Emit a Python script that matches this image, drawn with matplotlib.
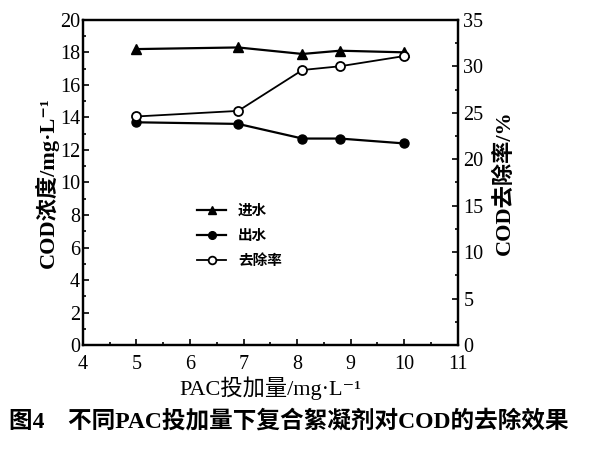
import matplotlib.pyplot as plt
from matplotlib.ticker import MultipleLocator

plt.rcParams['font.family'] = ['Liberation Serif', 'Noto Sans CJK SC', 'DejaVu Sans']

# PAC dose (mg/L)
dose = [5, 6.9, 8.1, 8.8, 10]
# COD concentrations (mg/L)
cod_in = [18.2, 18.3, 17.9, 18.1, 18.0]
cod_out = [13.7, 13.6, 12.7, 12.7, 12.4]
# removal rate (%)
removal = [24.6, 25.2, 29.6, 30.0, 31.1]

fig = plt.figure(figsize=(6, 4.5), dpi=100)
ax = fig.add_axes([0.138, 0.233, 0.625, 0.723])
ax2 = ax.twinx()

l1, = ax.plot(dose, cod_in, '-^', color='black', lw=1.6, ms=7, label='进水')
l2, = ax.plot(dose, cod_out, '-o', color='black', lw=1.6, ms=6.5, label='出水')
l3, = ax2.plot(dose, removal, '-o', color='black', lw=1.3, ms=6.5,
               mfc='white', mec='black', mew=1.3, label='去除率')

ax.set_xlim(4, 11)
ax.set_ylim(0, 20)
ax2.set_ylim(0, 35)
ax.xaxis.set_major_locator(MultipleLocator(1))
ax.xaxis.set_minor_locator(MultipleLocator(0.5))
ax.yaxis.set_major_locator(MultipleLocator(2))
ax.yaxis.set_minor_locator(MultipleLocator(1))
ax2.yaxis.set_major_locator(MultipleLocator(5))
ax2.yaxis.set_minor_locator(MultipleLocator(2.5))

for a in (ax, ax2):
    a.tick_params(which='both', direction='in', labelsize=14.5, width=1.2)
    a.tick_params(which='major', length=4)
    a.tick_params(which='minor', length=2.5)
    for s in a.spines.values():
        s.set_linewidth(1.6)
ax.tick_params(axis='x', pad=7)
ax.tick_params(axis='y', pad=2)
ax2.tick_params(axis='y', pad=4)

ax.set_xlabel('PAC投加量/mg·L⁻¹', fontsize=16, labelpad=2)
ax.set_ylabel('COD浓度/mg·L⁻¹', fontsize=16, fontweight='bold', labelpad=1)
ax2.set_ylabel('COD去除率/%', fontsize=16, fontweight='bold', labelpad=7)

ax.legend(handles=[l1, l2, l3], loc='upper left', bbox_to_anchor=(0.27, 0.48),
          frameon=False, handlelength=2.0, labelspacing=0.6, markerscale=0.85,
          prop={'family': ['Noto Sans CJK SC'], 'weight': 'bold', 'size': 10.5})

fig.text(0.015, 0.065, '图4    不同PAC投加量下复合絮凝剂对COD的去除效果',
         fontsize=17, fontweight='bold', ha='left', va='center')

fig.savefig('out.png', dpi=100)
